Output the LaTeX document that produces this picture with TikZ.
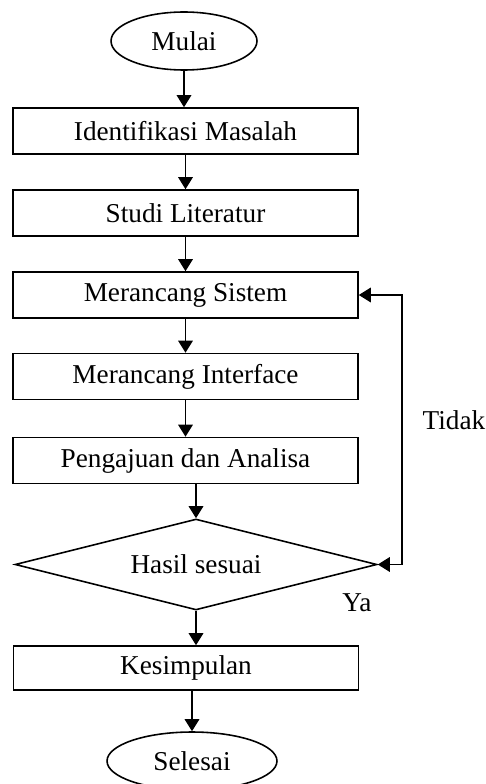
\documentclass[tikz,border=0pt]{standalone}
\usepackage{fontspec}
\setmainfont{Liberation Serif}
\usepackage{tikz}
\usetikzlibrary{arrows.meta}
\usetikzlibrary{shapes.geometric}
\tikzset{>={Triangle[length=2.4mm,width=2.9mm]}}
\tikzset{
  proses/.style={draw, line width=0.9pt, minimum width=6.9cm, minimum height=0.92cm, inner sep=0pt, font=\fontsize{15.5}{18}\selectfont},
  terminal/.style={draw, ellipse, line width=0.9pt, inner sep=0pt, minimum height=1.16cm, font=\fontsize{15.5}{18}\selectfont},
  keputusan/.style={draw, diamond, aspect=4, line width=0.9pt, inner sep=0pt, minimum width=7.24cm, minimum height=1.82cm, font=\fontsize{15.5}{18}\selectfont},
  label/.style={font=\fontsize{15.5}{18}\selectfont}
}

\begin{document}
\begin{tikzpicture}[x=0.02cm, y=-0.02cm, line width=0.9pt]
            \useasboundingbox (0,0) rectangle (486,784);

            \node [terminal, minimum width=2.92cm] (mulai) at (184, 41) {Mulai};
            \node [proses] (identifikasi) at (185.5, 131) {Identifikasi Masalah};
            \node [proses] (studi) at (185.5, 213) {Studi Literatur};
            \node [proses] (sistem) at (185.5, 295) {Merancang Sistem};
            \node [proses] (interface) at (185.5, 376.5) {Merancang Interface};
            \node [proses] (pengajuan) at (185.5, 460.5) {Pengajuan dan Analisa};
            \node [keputusan] (hasil) at (196, 564.5) {Hasil sesuai};
            \node [proses, minimum height=0.88cm] (kesimpulan) at (186, 668) {Kesimpulan};
            \node [terminal, minimum width=3.4cm] (selesai) at (192, 761) {Selesai};

            \node [label] (tidak) at (454, 420) {Tidak};
            \node [label] (ya) at (357, 603) {Ya};

            \coordinate (sudut) at (402, 564.5);

            \draw[->] (mulai) -- (mulai |- identifikasi.north);
            \draw[->] (identifikasi) -- (studi);
            \draw[->] (studi) -- (sistem);
            \draw[->] (sistem) -- (interface);
            \draw[->] (interface) -- (pengajuan);
            \draw[->] (hasil.north |- pengajuan.south) -- (hasil.north);
            \draw[->] (hasil.south) -- (hasil.south |- kesimpulan.north);
            \draw[->] (selesai.north |- kesimpulan.south) -- (selesai.north);
            \draw[<->] (hasil.east) -- (sudut) |- (sistem.east);
        \end{tikzpicture}
\end{document}
